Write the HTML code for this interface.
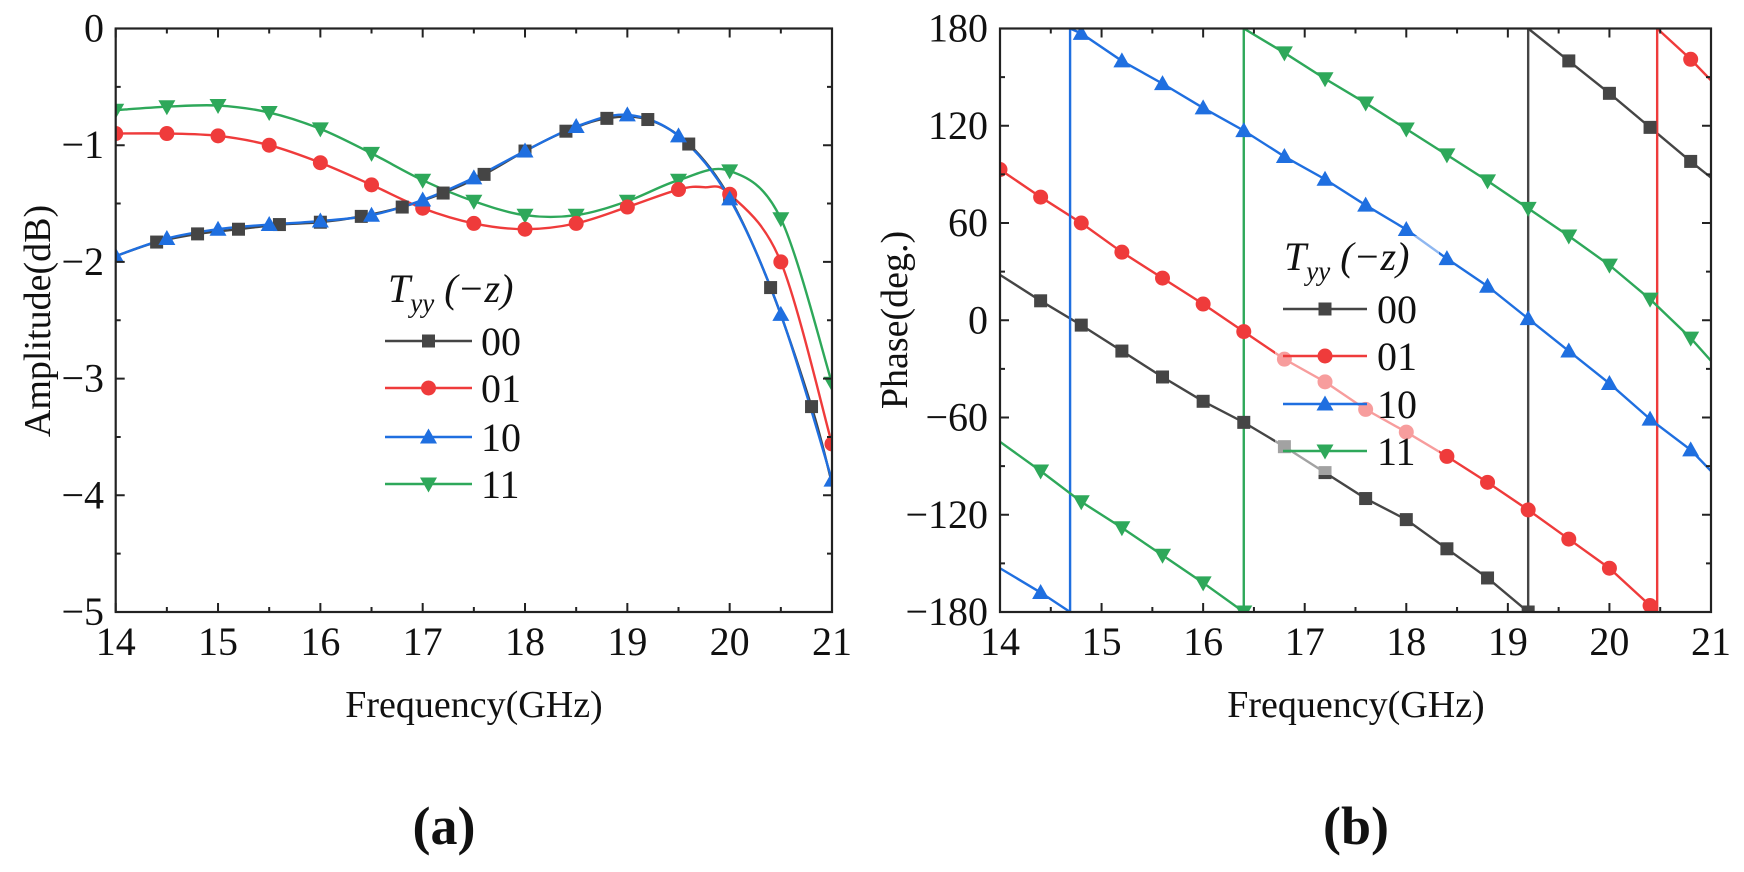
<!DOCTYPE html>
<html><head><meta charset="utf-8">
<style>
html,body{margin:0;padding:0;background:#fff;}
svg{display:block;}
svg text{font-family:"Liberation Serif","DejaVu Serif",serif;}
</style></head>
<body>
<svg id="s" xmlns="http://www.w3.org/2000/svg" width="1744" height="872" viewBox="0 0 1744 872" font-family="Liberation Serif, serif">
<rect width="1744" height="872" fill="#fff"/>
<g id="g"></g>
<g font-size="38" fill="#111">
<text x="474" y="717" text-anchor="middle">Frequency(GHz)</text>
<text x="1356" y="717" text-anchor="middle">Frequency(GHz)</text>
<text transform="translate(50,321) rotate(-90)" text-anchor="middle">Amplitude(dB)</text>
<text transform="translate(907,320) rotate(-90)" text-anchor="middle">Phase(deg.)</text>
</g>
<text x="444" y="844" font-size="54" font-weight="bold" text-anchor="middle" fill="#111">(a)</text>
<text x="1356" y="844" font-size="54" font-weight="bold" text-anchor="middle" fill="#111">(b)</text>
</svg>
<script>
(function(){
var g=document.getElementById("g");
var out="";
var C={k:"#454545",r:"#ef3b3b",b:"#1f6fe0",gr:"#2ea85a"};
function mk(type,x,y,col){
  var s="";
  if(type=="sq") s='<rect x="'+(x-6.5)+'" y="'+(y-6.5)+'" width="13" height="13" fill="'+col+'"/>';
  else if(type=="ci") s='<circle cx="'+x+'" cy="'+y+'" r="7.5" fill="'+col+'"/>';
  else if(type=="up") s='<polygon points="'+x+','+(y-8.5)+' '+(x-8.5)+','+(y+6.5)+' '+(x+8.5)+','+(y+6.5)+'" fill="'+col+'"/>';
  else if(type=="dn") s='<polygon points="'+x+','+(y+8.5)+' '+(x-8.5)+','+(y-6.5)+' '+(x+8.5)+','+(y-6.5)+'" fill="'+col+'"/>';
  return s;
}
function smooth(pts){
  var d="M"+pts[0][0]+","+pts[0][1];
  for(var i=0;i<pts.length-1;i++){
    var p0=pts[i-1]||pts[i],p1=pts[i],p2=pts[i+1],p3=pts[i+2]||p2;
    var c1=[p1[0]+(p2[0]-p0[0])/6,p1[1]+(p2[1]-p0[1])/6];
    var c2=[p2[0]-(p3[0]-p1[0])/6,p2[1]-(p3[1]-p1[1])/6];
    d+=" C"+c1[0]+","+c1[1]+" "+c2[0]+","+c2[1]+" "+p2[0]+","+p2[1];
  }
  return d;
}
var L={x0:115.7,x1:832,y0:28.5,y1:612};
function X1(f){return L.x0+(f-14)*(L.x1-L.x0)/7;}
function Y1(a){return L.y0-a*(L.y1-L.y0)/5;}
var black=[[14,-1.95],[14.4,-1.83],[14.8,-1.76],[15.2,-1.72],[15.6,-1.68],[16,-1.66],[16.4,-1.61],[16.8,-1.53],[17.2,-1.41],[17.6,-1.25],[18,-1.05],[18.4,-0.88],[18.8,-0.77],[19.2,-0.78],[19.6,-0.99],[20,-1.45],[20.4,-2.22],[20.8,-3.24],[21,-3.9]];
var blue=[[14,-1.95],[14.5,-1.8],[15,-1.72],[15.5,-1.68],[16,-1.65],[16.5,-1.6],[17,-1.47],[17.5,-1.28],[18,-1.05],[18.5,-0.84],[19,-0.74],[19.5,-0.92],[20,-1.46],[20.5,-2.45],[21,-3.87]];
var red=[[14,-0.9],[14.5,-0.9],[15,-0.92],[15.5,-1.0],[16,-1.15],[16.5,-1.34],[17,-1.54],[17.5,-1.67],[18,-1.72],[18.5,-1.67],[19,-1.53],[19.5,-1.38],[20,-1.42],[20.5,-2.0],[21,-3.56]];
var green=[[14,-0.7],[14.5,-0.67],[15,-0.66],[15.5,-0.72],[16,-0.86],[16.5,-1.07],[17,-1.3],[17.5,-1.48],[18,-1.6],[18.5,-1.6],[19,-1.48],[19.5,-1.3],[20,-1.22],[20.5,-1.63],[21,-3.04]];
var redS=red.slice(0,12).concat([[19.75,-1.36]]).concat(red.slice(12));
function conv(d){return d.map(function(p){return [X1(p[0]),Y1(p[1])];});}
out+='<defs><clipPath id="c1"><rect x="'+L.x0+'" y="'+L.y0+'" width="'+(L.x1-L.x0)+'" height="'+(L.y1-L.y0)+'"/></clipPath><clipPath id="c2"><rect x="1000" y="28.5" width="711" height="583.5"/></clipPath></defs>';
out+='<g clip-path="url(#c1)" fill="none" stroke-width="2.4">';
out+='<path d="'+smooth(conv(black))+'" stroke="'+C.k+'"/>';
out+='<path d="'+smooth(conv(green))+'" stroke="'+C.gr+'"/>';
out+='<path d="'+smooth(conv(redS))+'" stroke="'+C.r+'"/>';
out+='<path d="'+smooth(conv(blue))+'" stroke="'+C.b+'"/>';
out+='</g><g clip-path="url(#c1)">';
black.slice(1,18).forEach(function(p){out+=mk("sq",X1(p[0]),Y1(p[1]),C.k);});
green.forEach(function(p){out+=mk("dn",X1(p[0]),Y1(p[1]),C.gr);});
red.forEach(function(p){out+=mk("ci",X1(p[0]),Y1(p[1]),C.r);});
blue.forEach(function(p){out+=mk("up",X1(p[0]),Y1(p[1]),C.b);});
out+='</g>';
function axes(x0,x1,y0,y1){
  return '<rect x="'+x0+'" y="'+y0+'" width="'+(x1-x0)+'" height="'+(y1-y0)+'" fill="none" stroke="#222" stroke-width="2.2"/>';
}
out+=axes(L.x0,L.x1,L.y0,L.y1);
var t='';
for(var f=14;f<=21.001;f+=0.5){
  var x=X1(f),maj=Math.abs(f-Math.round(f))<0.01,len=maj?9:5;
  t+='M'+x+','+L.y1+'v-'+len+'M'+x+','+L.y0+'v'+len;
  if(maj) out+='<text x="'+x+'" y="655" font-size="40" text-anchor="middle" fill="#111">'+Math.round(f)+'</text>';
}
for(var a=0;a>=-5.001;a-=0.5){
  var y=Y1(a),maj=Math.abs(a-Math.round(a))<0.01,len=maj?9:5;
  t+='M'+L.x0+','+y+'h'+len+'M'+L.x1+','+y+'h-'+len;
  if(maj) out+='<text x="104" y="'+(y+13)+'" font-size="40" text-anchor="end" fill="#111">'+(Math.round(a)==0?"0":"\u2212"+(-Math.round(a)))+'</text>';
}
out+='<path d="'+t+'" stroke="#222" stroke-width="2" fill="none"/>';
function legend(tx,ty,lx0,lx1,tx2,ys,bg){
  var s='';
  if(bg) s+='<rect x="'+(lx0-8)+'" y="'+(ty-34)+'" width="'+(tx2-lx0+70)+'" height="'+(ys[3]-ty+58)+'" fill="#fff" opacity="0.5"/>';
  s+='<text x="'+tx+'" y="'+ty+'" font-size="40" font-style="italic" fill="#111">T<tspan font-size="27" dy="10">yy</tspan><tspan dy="-10"> (\u2212z)</tspan></text>';
  var cols=[C.k,C.r,C.b,C.gr],typ=["sq","ci","up","dn"],lab=["00","01","10","11"];
  for(var i=0;i<4;i++){
    s+='<line x1="'+lx0+'" y1="'+ys[i]+'" x2="'+lx1+'" y2="'+ys[i]+'" stroke="'+cols[i]+'" stroke-width="2.4"/>';
    s+=mk(typ[i],(lx0+lx1)/2,ys[i],cols[i]);
    s+='<text x="'+tx2+'" y="'+(ys[i]+14)+'" font-size="40" fill="#111">'+lab[i]+'</text>';
  }
  return s;
}
out+=legend(388,302,385,472,481,[341,388,437,484],false);
// RIGHT
var R={x0:1000,x1:1711,y0:28.5,y1:612};
function X2(f){return R.x0+(f-14)*(R.x1-R.x0)/7;}
function Y2(p){return R.y0+(180-p)*(R.y1-R.y0)/360;}
var series=[
 {c:C.k,t:"sq",segs:[
   [[14,28],[14.4,12],[14.8,-3],[15.2,-19],[15.6,-35],[16,-50],[16.4,-63],[16.8,-78],[17.2,-94],[17.6,-110],[18,-123],[18.4,-141],[18.8,-159],[19.2,-180]],
   [[19.2,180],[19.6,160],[20,140],[20.4,119],[20.8,98],[21,88]]],
   skip:{"14":1,"21":1},jump:19.2},
 {c:C.r,t:"ci",segs:[
   [[14,93],[14.4,76],[14.8,60],[15.2,42],[15.6,26],[16,10],[16.4,-7],[16.8,-24],[17.2,-38],[17.6,-55],[18,-69],[18.4,-84],[18.8,-100],[19.2,-117],[19.6,-135],[20,-153],[20.4,-176],[20.47,-180]],
   [[20.47,180],[20.8,161],[21,148]]],
   skip:{"20.47":1,"21":1},jump:20.47},
 {c:C.b,t:"up",segs:[
   [[14,-153],[14.4,-168],[14.69,-180]],
   [[14.69,180],[14.8,177],[15.2,160],[15.6,146],[16,131],[16.4,117],[16.8,101],[17.2,87],[17.6,71],[18,56],[18.4,38],[18.8,21],[19.2,1],[19.6,-19],[20,-39],[20.4,-61],[20.8,-80],[21,-93]]],
   skip:{"14":1,"14.69":1,"21":1},jump:14.69},
 {c:C.gr,t:"dn",segs:[
   [[14,-75],[14.4,-93],[14.8,-112],[15.2,-128],[15.6,-145],[16,-162],[16.4,-180]],
   [[16.4,180],[16.8,165],[17.2,149],[17.6,134],[18,118],[18.4,102],[18.8,86],[19.2,69],[19.6,52],[20,34],[20.4,13],[20.8,-11],[21,-25]]],
   skip:{"14":1,"21":1},jump:16.4,skip2:true}
];
out+='<g clip-path="url(#c2)">';
series.forEach(function(S){
  var d='';
  S.segs.forEach(function(sg){sg.forEach(function(p,i){d+=(i?'L':'M')+X2(p[0])+','+Y2(p[1]);});});
  d+='M'+X2(S.jump)+','+Y2(-180)+'L'+X2(S.jump)+','+Y2(180);
  out+='<path d="'+d+'" stroke="'+S.c+'" stroke-width="2.4" fill="none"/>';
});
series.forEach(function(S,si){
  S.segs.forEach(function(sg,k){
    sg.forEach(function(p){
      if(S.skip[String(p[0])]) return;
      if(si==3&&k==1&&p[0]==16.4) return;
      if(si==0&&k==1&&p[0]==19.2) return;
      if(si==2&&p[0]==14.69) return;
      out+=mk(S.t,X2(p[0]),Y2(p[1]),S.c);
    });
  });
});
out+='</g>';
out+=axes(R.x0,R.x1,R.y0,R.y1);
t='';
for(var f=14;f<=21.001;f+=0.5){
  var x=X2(f),maj=Math.abs(f-Math.round(f))<0.01,len=maj?9:5;
  t+='M'+x+','+R.y1+'v-'+len+'M'+x+','+R.y0+'v'+len;
  if(maj) out+='<text x="'+x+'" y="655" font-size="40" text-anchor="middle" fill="#111">'+Math.round(f)+'</text>';
}
for(var p=180;p>=-180;p-=30){
  var y=Y2(p),maj=(p%60==0),len=maj?9:5;
  t+='M'+R.x0+','+y+'h'+len+'M'+R.x1+','+y+'h-'+len;
  if(maj) out+='<text x="988" y="'+(y+13)+'" font-size="40" text-anchor="end" fill="#111">'+(p<0?"\u2212"+(-p):p)+'</text>';
}
out+='<path d="'+t+'" stroke="#222" stroke-width="2" fill="none"/>';
out+=legend(1284,270,1283,1367,1377,[309,356,404,451],true);
g.innerHTML=out;
})();
</script>
</body></html>
